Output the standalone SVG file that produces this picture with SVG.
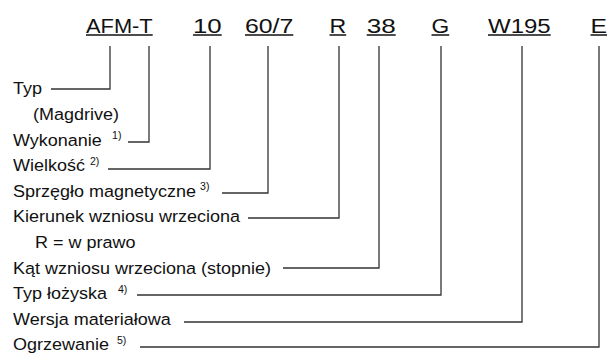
<svg xmlns="http://www.w3.org/2000/svg" width="613" height="354" viewBox="0 0 613 354">
<style>
.code{font-family:"Liberation Sans",Arial,sans-serif;font-size:20px;fill:#111}
.lbl{font-family:"Liberation Sans",Arial,sans-serif;font-size:17px;fill:#111}
.sup{font-size:10px}
.ul{stroke:#111;stroke-width:1.5}
.conn path{fill:none;stroke:#333;stroke-width:1.3}
</style>
<rect width="613" height="354" fill="#fff"/>
<g id="codes">
<g id="code-afmt"><text class="code" x="86" y="33" textLength="66.7" lengthAdjust="spacingAndGlyphs">AFM-T</text><line class="ul" x1="86" y1="35" x2="152.7" y2="35"/></g>
<g id="code-10"><text class="code" x="193" y="33" textLength="28.7" lengthAdjust="spacingAndGlyphs">10</text><line class="ul" x1="193" y1="35" x2="221.7" y2="35"/></g>
<g id="code-607"><text class="code" x="245" y="33" textLength="48.3" lengthAdjust="spacingAndGlyphs">60/7</text><line class="ul" x1="245" y1="35" x2="293.3" y2="35"/></g>
<g id="code-r"><text class="code" x="329.5" y="33" textLength="16.7" lengthAdjust="spacingAndGlyphs">R</text><line class="ul" x1="329.5" y1="35" x2="346.2" y2="35"/></g>
<g id="code-38"><text class="code" x="366.7" y="33" textLength="29" lengthAdjust="spacingAndGlyphs">38</text><line class="ul" x1="366.7" y1="35" x2="395.7" y2="35"/></g>
<g id="code-g"><text class="code" x="431.5" y="33" textLength="17.7" lengthAdjust="spacingAndGlyphs">G</text><line class="ul" x1="431.5" y1="35" x2="449.2" y2="35"/></g>
<g id="code-w195"><text class="code" x="488" y="33" textLength="62.7" lengthAdjust="spacingAndGlyphs">W195</text><line class="ul" x1="488" y1="35" x2="550.7" y2="35"/></g>
<g id="code-e"><text class="code" x="590.5" y="33" textLength="16.5" lengthAdjust="spacingAndGlyphs">E</text><line class="ul" x1="590.5" y1="35" x2="607" y2="35"/></g>
</g>
<g id="labels" transform="scale(1.0588,1)">
<g id="lbl-typ"><text class="lbl" x="12.28" y="94.5">Typ</text><text class="lbl" x="31.17" y="120">(Magdrive)</text></g>
<g id="lbl-wykonanie"><text class="lbl" x="12.28" y="145.7">Wykonanie</text><text class="lbl sup" x="105.8" y="139.5">1)</text></g>
<g id="lbl-wielkosc"><text class="lbl" x="12.28" y="171.3">Wielkość</text><text class="lbl sup" x="85" y="165">2)</text></g>
<g id="lbl-sprzeglo"><text class="lbl" x="12.28" y="196.9">Sprzęgło magnetyczne</text><text class="lbl sup" x="188.9" y="190.5">3)</text></g>
<g id="lbl-kierunek"><text class="lbl" x="12.28" y="222.5">Kierunek wzniosu wrzeciona</text><text class="lbl" x="33.06" y="248.1">R = w prawo</text></g>
<g id="lbl-kat"><text class="lbl" x="12.28" y="273.7">Kąt wzniosu wrzeciona (stopnie)</text></g>
<g id="lbl-lozysko"><text class="lbl" x="12.28" y="299.3">Typ  łożyska</text><text class="lbl sup" x="111.4" y="293">4)</text></g>
<g id="lbl-wersja"><text class="lbl" x="12.28" y="324.9">Wersja materiałowa</text></g>
<g id="lbl-ogrzewanie"><text class="lbl" x="12.28" y="350.5">Ogrzewanie</text><text class="lbl sup" x="110.5" y="344">5)</text></g>
</g>
<g id="connectors" class="conn">
<path d="M110 46V89H51"/>
<path d="M149 46V142H128"/>
<path d="M210 46V169H108"/>
<path d="M268 46V193H222"/>
<path d="M339 46V218H248"/>
<path d="M379 46V268H283"/>
<path d="M441 46V295H137"/>
<path d="M522 46V322H184"/>
<path d="M599 46V347H140"/>
</g>
</svg>
